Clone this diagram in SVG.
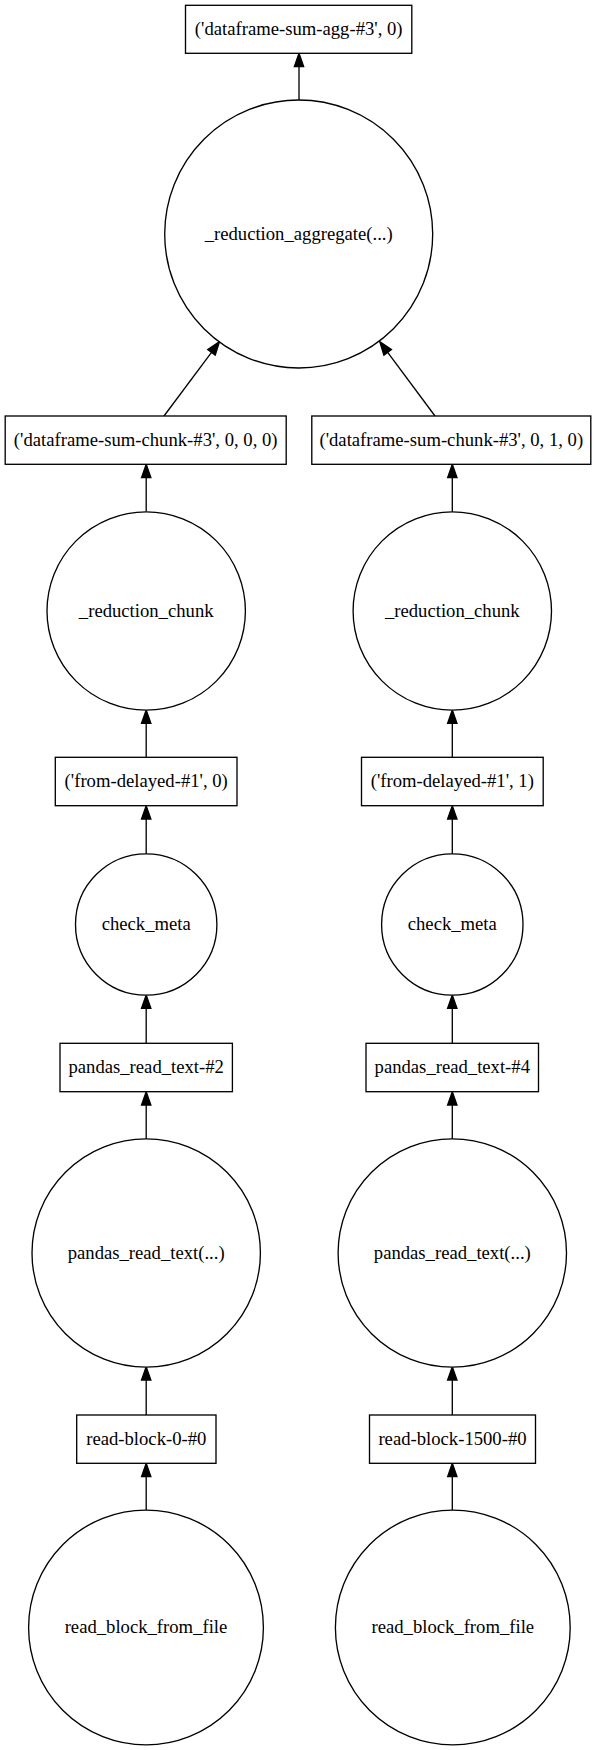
<svg xmlns="http://www.w3.org/2000/svg" width="597" height="1750" viewBox="0 0 597 1750">
<style>
.n{fill:#fff;stroke:#000;stroke-width:1.33}
text{font-family:'Liberation Serif','Times New Roman',Times,serif;font-size:18.67px;text-anchor:middle;fill:#000}
.e{fill:none;stroke:#000;stroke-width:1.33;marker-end:url(#ah)}
</style>
<defs>
<marker id="ah" markerUnits="userSpaceOnUse" markerWidth="16" markerHeight="12" refX="0" refY="6" orient="auto" viewBox="0 0 16 12" overflow="visible">
<path d="M0,1.33 L13.33,6 L0,10.67 Z" fill="#000" stroke="#000" stroke-width="1.33"/>
</marker>
</defs>
<rect width="597" height="1750" fill="#fff"/>
<g id="edges">
<line class="e" x1="299" y1="100" x2="299" y2="66.7"/>
<line class="e" x1="164" y1="416" x2="211.5" y2="352.4"/>
<line class="e" x1="435" y1="416" x2="387.7" y2="352.4"/>
<line class="e" x1="146.2" y1="511.7" x2="146.2" y2="477.6"/>
<line class="e" x1="452.3" y1="511.7" x2="452.3" y2="477.6"/>
<line class="e" x1="146.2" y1="757.3" x2="146.2" y2="723.3"/>
<line class="e" x1="452.3" y1="757.3" x2="452.3" y2="723.3"/>
<line class="e" x1="146.2" y1="854" x2="146.2" y2="819"/>
<line class="e" x1="452.3" y1="854" x2="452.3" y2="819"/>
<line class="e" x1="146.2" y1="1043.3" x2="146.2" y2="1008.3"/>
<line class="e" x1="452.3" y1="1043.3" x2="452.3" y2="1008.3"/>
<line class="e" x1="146.2" y1="1139.3" x2="146.2" y2="1105"/>
<line class="e" x1="452.3" y1="1139.3" x2="452.3" y2="1105"/>
<line class="e" x1="146.2" y1="1415" x2="146.2" y2="1380"/>
<line class="e" x1="452.3" y1="1415" x2="452.3" y2="1380"/>
<line class="e" x1="146.2" y1="1510" x2="146.2" y2="1476.6"/>
<line class="e" x1="452.3" y1="1510" x2="452.3" y2="1476.6"/>
</g>
<g id="agg">
<rect class="n" x="185.5" y="5.3" width="226.3" height="48"/>
<text font-family="Liberation Serif" x="298.7" y="34.9">('dataframe-sum-agg-#3', 0)</text>
</g>
<g id="reduction_aggregate">
<circle class="n" cx="298.7" cy="234" r="134"/>
<text font-family="Liberation Serif" x="298.7" y="239.6">_reduction_aggregate(...)</text>
</g>
<g id="chunk0">
<rect class="n" x="5.2" y="416" width="281" height="48.3"/>
<text font-family="Liberation Serif" x="145.7" y="445.7">('dataframe-sum-chunk-#3', 0, 0, 0)</text>
</g>
<g id="chunk1">
<rect class="n" x="311.8" y="416" width="279" height="48.3"/>
<text font-family="Liberation Serif" x="451.3" y="445.7">('dataframe-sum-chunk-#3', 0, 1, 0)</text>
</g>
<g id="reduction_chunk0">
<circle class="n" cx="146.2" cy="611" r="99.2"/>
<text font-family="Liberation Serif" x="146.2" y="616.6">_reduction_chunk</text>
</g>
<g id="reduction_chunk1">
<circle class="n" cx="452.3" cy="611" r="99.2"/>
<text font-family="Liberation Serif" x="452.3" y="616.6">_reduction_chunk</text>
</g>
<g id="from_delayed0">
<rect class="n" x="55.3" y="757.3" width="181.7" height="48.4"/>
<text font-family="Liberation Serif" x="146.2" y="787.1">('from-delayed-#1', 0)</text>
</g>
<g id="from_delayed1">
<rect class="n" x="361.5" y="757.3" width="181.7" height="48.4"/>
<text font-family="Liberation Serif" x="452.3" y="787.1">('from-delayed-#1', 1)</text>
</g>
<g id="check_meta0">
<circle class="n" cx="146.2" cy="924.5" r="70.7"/>
<text font-family="Liberation Serif" x="146.2" y="930.1">check_meta</text>
</g>
<g id="check_meta1">
<circle class="n" cx="452.3" cy="924.5" r="70.7"/>
<text font-family="Liberation Serif" x="452.3" y="930.1">check_meta</text>
</g>
<g id="pandas_read_text2">
<rect class="n" x="60" y="1043.3" width="172.4" height="48.4"/>
<text font-family="Liberation Serif" x="146.2" y="1073.1">pandas_read_text-#2</text>
</g>
<g id="pandas_read_text4">
<rect class="n" x="366" y="1043.3" width="172.5" height="48.4"/>
<text font-family="Liberation Serif" x="452.3" y="1073.1">pandas_read_text-#4</text>
</g>
<g id="pandas_read_text_fn0">
<circle class="n" cx="146.2" cy="1253" r="114.2"/>
<text font-family="Liberation Serif" x="146.2" y="1258.6">pandas_read_text(...)</text>
</g>
<g id="pandas_read_text_fn1">
<circle class="n" cx="452.3" cy="1253" r="114.2"/>
<text font-family="Liberation Serif" x="452.3" y="1258.6">pandas_read_text(...)</text>
</g>
<g id="read_block0">
<rect class="n" x="76.7" y="1415" width="139.3" height="48.3"/>
<text font-family="Liberation Serif" x="146.3" y="1444.7">read-block-0-#0</text>
</g>
<g id="read_block1500">
<rect class="n" x="369.5" y="1415" width="166" height="48.3"/>
<text font-family="Liberation Serif" x="452.5" y="1444.7">read-block-1500-#0</text>
</g>
<g id="read_block_from_file0">
<circle class="n" cx="146" cy="1627.5" r="117.4"/>
<text font-family="Liberation Serif" x="146" y="1633.1">read_block_from_file</text>
</g>
<g id="read_block_from_file1">
<circle class="n" cx="452.8" cy="1627.5" r="117.4"/>
<text font-family="Liberation Serif" x="452.8" y="1633.1">read_block_from_file</text>
</g>
</svg>
